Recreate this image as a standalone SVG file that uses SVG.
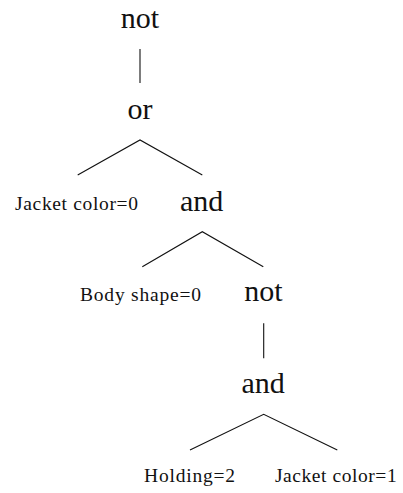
<svg xmlns="http://www.w3.org/2000/svg" width="403" height="493" viewBox="0 0 403 493">
  <style>
    .op { font-family: "Liberation Serif", "Times New Roman", serif; font-size: 30px; fill: #111; text-anchor: middle; }
    .leaf { font-family: "Liberation Serif", "Times New Roman", serif; font-size: 19.5px; fill: #111; text-anchor: middle; }
    .edge { stroke: #111; stroke-width: 1.1; fill: none; }
  </style>
  <rect width="403" height="493" fill="#ffffff"/>
  <g id="connectors">
    <line class="edge" x1="140" y1="49" x2="140" y2="83"/>
    <polyline class="edge" points="77.7,175 140,140 202.3,175"/>
    <polyline class="edge" points="142.3,266.7 202.3,231.7 263.3,266.7"/>
    <line class="edge" x1="263.7" y1="323.3" x2="263.7" y2="358.3"/>
    <polyline class="edge" points="190,450 263.7,414.3 337.3,450"/>
  </g>
  <g id="n1"><text class="op" x="140" y="28">not</text></g>
  <g id="n2"><text class="op" x="140" y="118.5">or</text></g>
  <g id="n3"><text class="leaf" x="76.5" y="210" textLength="123" lengthAdjust="spacing">Jacket color=0</text></g>
  <g id="n4"><text class="op" x="201.7" y="210.5">and</text></g>
  <g id="n5"><text class="leaf" x="140.5" y="301" textLength="121" lengthAdjust="spacing">Body shape=0</text></g>
  <g id="n6"><text class="op" x="263.3" y="301">not</text></g>
  <g id="n7"><text class="op" x="263.2" y="393.3">and</text></g>
  <g id="n8"><text class="leaf" x="189.5" y="482" textLength="91" lengthAdjust="spacing">Holding=2</text></g>
  <g id="n9"><text class="leaf" x="335.8" y="482" textLength="121.7" lengthAdjust="spacing">Jacket color=1</text></g>
</svg>
